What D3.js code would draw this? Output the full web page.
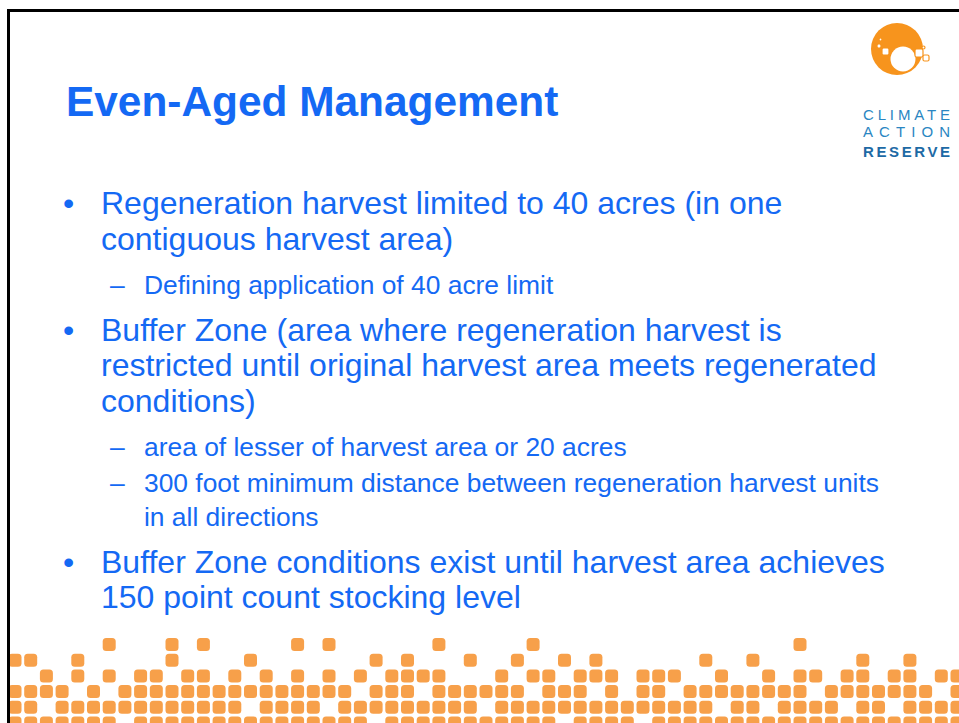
<!DOCTYPE html>
<html>
<head>
<meta charset="utf-8">
<script src="https://cdn.jsdelivr.net/npm/d3@7"></script>
<style>
  body { margin: 0; background: #fff; }
  svg { display: block; }
  text { font-family: "Liberation Sans", Arial, sans-serif; }
</style>
</head>
<body>
<div id="slide"></div>
<script>
// Slide content ------------------------------------------------------------------------------

var title = "Even-Aged Management";

var bulletLevels = [1, 1, 2, 1, 1, 1, 2, 2, 2, 1, 1];
var bulletStarts = [true, false, true, true, false, false, true, true, false, true, false];
var bulletLines = [
  "Regeneration harvest limited to 40 acres (in one",
  "contiguous harvest area)",
  "Defining application of 40 acre limit",
  "Buffer Zone (area where regeneration harvest is",
  "restricted until original harvest area meets regenerated",
  "conditions)",
  "area of lesser of harvest area or 20 acres",
  "300 foot minimum distance between regeneration harvest units",
  "in all directions",
  "Buffer Zone conditions exist until harvest area achieves",
  "150 point count stocking level"
];

var logoWords = ["CLIMATE", "ACTION", "RESERVE"];

// orange dot band at the bottom: filled column indices for each row
var dotRow0 = [6,10,12,18,20,27,33,50];
var dotRow1 = [0,1,4,10,15,23,25,29,32,35,37,44,47,54,57];
var dotRow2 = [2,4,6,8,9,11,12,14,16,18,20,22,24,25,26,27,31,33,34,36,37,38,40,41,42,45,48,50,51,53,54,56,57,59,60];
var dotRow3 = [0,1,2,3,5,7,8,9,10,11,12,13,14,15,16,17,18,19,20,21,23,24,25,27,28,29,30,31,32,34,35,36,38,40,41,43,44,45,46,47,48,49,50,52,53,54,55,56,57,58,60];
var dotRow4 = [0,1,3,4,5,6,7,8,9,10,11,12,13,14,16,17,18,19,21,22,23,24,25,26,27,28,29,31,32,33,34,35,36,37,38,39,40,41,42,43,44,46,47,49,50,51,52,54,55,57,58,59,60];
var dotRow5 = [0,1,2,3,4,5,6,8,9,10,11,12,13,14,15,16,17,18,19,20,21,22,24,25,26,27,28,29,30,31,32,33,34,36,37,38,39,41,42,43,44,45,46,47,48,49,50,51,52,53,54,55,56,57,58,59,60];

// Drawing ------------------------------------------------------------------------------------

var width = 959, height = 723;
var blue = "#1469f4", orange = "#f7a04a";

var svg = d3.select("#slide").append("svg")
  .attr("width", width)
  .attr("height", height);

svg.append("rect")
  .attr("width", width).attr("height", height)
  .attr("fill", "#fff");

// dot band
var dotRows = [dotRow0, dotRow1, dotRow2, dotRow3, dotRow4, dotRow5];
var col = d3.scaleLinear().domain([0, 60]).range([15, 957]);
var row = d3.scaleLinear().domain([0, 5]).range([644.5, 723]);
var dotSize = 13;

var cells = [];
dotRows.forEach(function(r, i) {
  r.forEach(function(c) { cells.push({r: i, c: c}); });
});

svg.append("g").selectAll("rect")
  .data(cells)
  .enter()
  .append("rect")
    .attr("x", function(d) { return col(d.c) - dotSize / 2; })
    .attr("y", function(d) { return row(d.r) - dotSize / 2; })
    .attr("width", dotSize)
    .attr("height", dotSize)
    .attr("rx", 3.5)
    .attr("fill", orange);

// slide frame (only left and top edges are inside the picture)
svg.append("path")
  .attr("d", "M8.5," + height + "V10.5H" + width)
  .attr("fill", "none")
  .attr("stroke", "#000")
  .attr("stroke-width", 3);

// title
svg.append("text")
  .attr("x", 66)
  .attr("y", 116)
  .attr("font-size", 42.4)
  .attr("font-weight", "bold")
  .attr("fill", blue)
  .text(title);

// bullet text
var level1 = {size: 32, textX: 101, markX: 63, mark: "\u2022"};
var level2 = {size: 26.4, textX: 144, markX: 110, mark: "\u2013"};

var y = 214;
var lines = bulletLines.map(function(t, i) {
  if (i > 0) {
    var prev = bulletLevels[i - 1], cur = bulletLevels[i];
    if (!bulletStarts[i]) y += cur === 1 ? 35.5 : 34;
    else if (prev === 1 && cur === 2) y += 44;
    else if (prev === 2 && cur === 1) y += 47;
    else y += 36;
  }
  return {text: t, level: bulletLevels[i], start: bulletStarts[i], y: y};
});

var g = svg.append("g").attr("fill", blue);

g.selectAll("text.line")
  .data(lines)
  .enter()
  .append("text")
    .attr("class", "line")
    .attr("x", function(d) { return (d.level === 1 ? level1 : level2).textX; })
    .attr("y", function(d) { return d.y; })
    .attr("font-size", function(d) { return (d.level === 1 ? level1 : level2).size; })
    .text(function(d) { return d.text; });

g.selectAll("text.mark")
  .data(lines.filter(function(d) { return d.start; }))
  .enter()
  .append("text")
    .attr("class", "mark")
    .attr("x", function(d) { return (d.level === 1 ? level1 : level2).markX; })
    .attr("y", function(d) { return d.y; })
    .attr("font-size", function(d) { return (d.level === 1 ? level1 : level2).size; })
    .text(function(d) { return (d.level === 1 ? level1 : level2).mark; });

// logo
var logo = svg.append("g");
logo.append("circle")
  .attr("cx", 897).attr("cy", 49).attr("r", 26)
  .attr("fill", "#f7941d");
logo.append("circle")
  .attr("cx", 903).attr("cy", 59).attr("r", 12.5)
  .attr("fill", "#fff");

var squares = [
  {x: 882, y: 48, s: 7}, {x: 877, y: 44, s: 4}, {x: 879, y: 38, s: 3},
  {x: 915, y: 49, s: 8}, {x: 923, y: 55, s: 6}, {x: 922, y: 46, s: 3}
];
logo.selectAll("rect")
  .data(squares)
  .enter()
  .append("rect")
    .attr("x", function(d) { return d.x; })
    .attr("y", function(d) { return d.y; })
    .attr("width", function(d) { return d.s; })
    .attr("height", function(d) { return d.s; })
    .attr("rx", 1.5)
    .attr("fill", "#fff")
    .attr("stroke", "#f7941d")
    .attr("stroke-width", 1.2);

logo.selectAll("text")
  .data(logoWords)
  .enter()
  .append("text")
    .attr("x", 863)
    .attr("y", function(d, i) { return [119.5, 137, 157][i]; })
    .attr("font-size", 15)
    .attr("font-weight", function(d, i) { return i === 2 ? "bold" : "normal"; })
    .attr("fill", function(d, i) { return i === 2 ? "#1d6aa5" : "#2a86c2"; })
    .attr("textLength", 87)
    .attr("lengthAdjust", "spacing")
    .text(function(d) { return d; });
</script>
</body>
</html>
